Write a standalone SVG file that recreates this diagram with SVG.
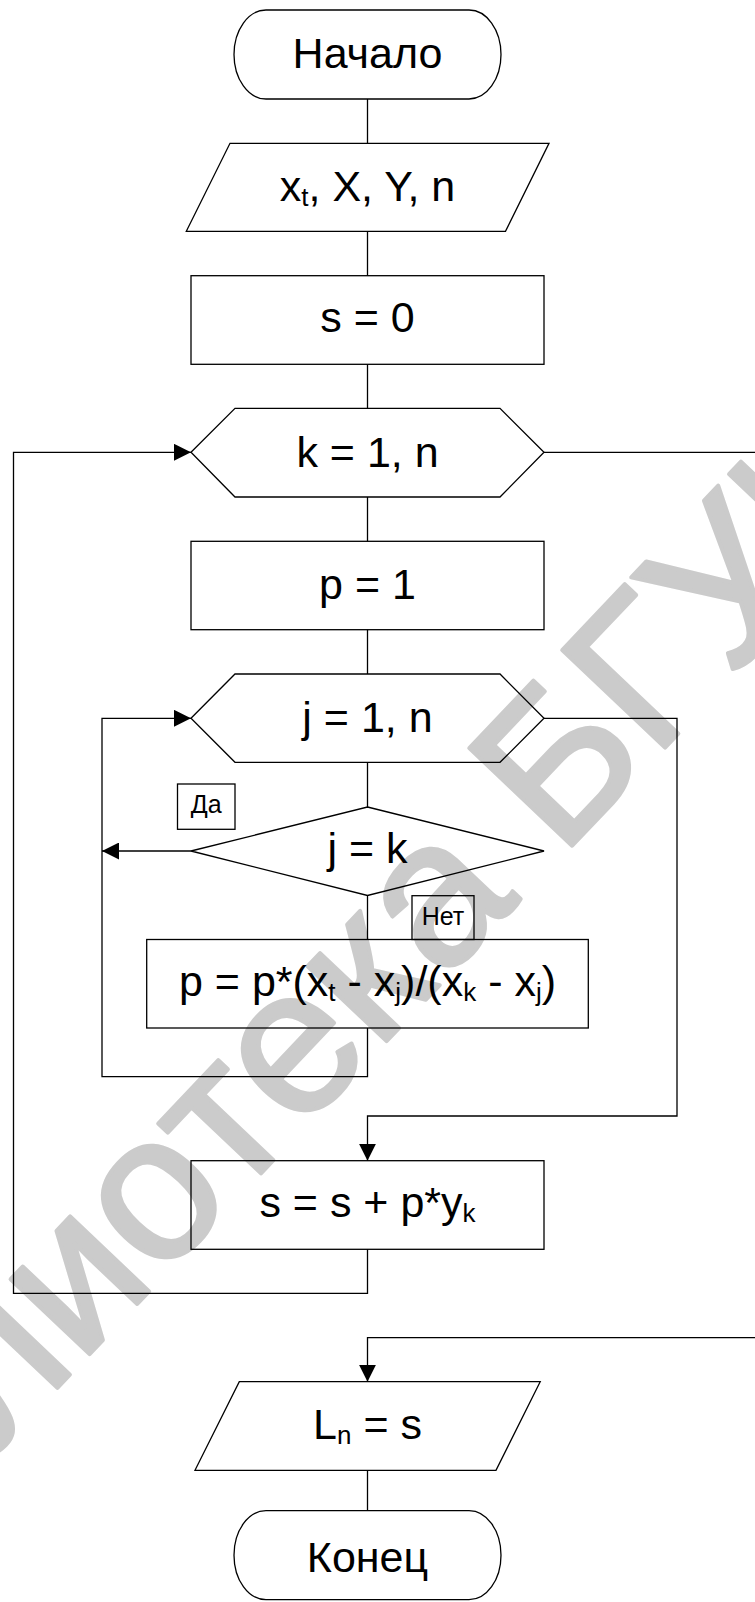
<svg xmlns="http://www.w3.org/2000/svg" width="755" height="1602" viewBox="0 0 755 1602">
<defs>
<style>
.s{fill:none;stroke:#000;stroke-width:1.3}
.t{font-family:"Liberation Sans",Arial,sans-serif;font-size:43px;fill:#000;text-anchor:middle}
.l{font-family:"Liberation Sans",Arial,sans-serif;font-size:25px;fill:#000;text-anchor:middle}
.c{fill:none;stroke:#000;stroke-width:1.3}
.sub{font-size:26px}
.wm{font-family:"Liberation Sans",Arial,sans-serif;font-size:206px;fill:#cbcbcb;stroke:#cbcbcb;stroke-width:4;stroke-linejoin:round}
</style>
<marker id="ah" viewBox="0 0 17 17" refX="17" refY="8.5" markerWidth="17" markerHeight="17" markerUnits="userSpaceOnUse" orient="auto">
<path d="M0,0 L17,8.5 L0,17 Z" fill="#000"/>
</marker>
</defs>
<rect width="755" height="1602" fill="#fff"/>
<g id="watermark">
<text class="wm" transform="translate(-250,1712) rotate(-46.5)">Библиотека БГУИР</text>
</g>
<g id="connectors">
<path class="c" d="M367.5,99 V143.3"/>
<path class="c" d="M367.5,231.3 V275.7"/>
<path class="c" d="M367.5,364.3 V408.3"/>
<path class="c" d="M367.5,497 V541.3"/>
<path class="c" d="M367.5,629.7 V674"/>
<path class="c" d="M367.5,762.3 V807"/>
<path class="c" d="M367.5,895.5 V939.5"/>
<path class="c" d="M191,851 H102" marker-end="url(#ah)"/>
<path class="c" d="M367.5,1028 V1076.7 H102 V718.3 H191" marker-end="url(#ah)"/>
<path class="c" d="M544,718.3 H677 V1116 H367.5 V1160.7" marker-end="url(#ah)"/>
<path class="c" d="M367.5,1249.3 V1293.3 H13.5 V452.3 H191" marker-end="url(#ah)"/>
<path class="c" d="M544,452.3 H762 V1337.7 H367.5 V1381.7" marker-end="url(#ah)"/>
<path class="c" d="M367.5,1470.3 V1510.7"/>
</g>
<g id="start">
<path class="s" d="M266,10 H469 A32,44.5 0 0 1 469,99 H266 A32,44.5 0 0 1 266,10 Z"/>
<text class="t" x="367.5" y="68.3">Начало</text>
</g>
<g id="input">
<polygon class="s" points="230,143.3 549,143.3 505.5,231.3 186.3,231.3"/>
<text class="t" x="367.5" y="201">x<tspan class="sub" dy="5">t</tspan><tspan dy="-5">, X, Y, n</tspan></text>
</g>
<g id="s0">
<rect class="s" x="191" y="275.7" width="353" height="88.6"/>
<text class="t" x="367.5" y="332">s = 0</text>
</g>
<g id="loopk">
<polygon class="s" points="191,452.3 235,408.3 500,408.3 544,452.3 500,497 235,497"/>
<text class="t" x="367.5" y="466.7">k = 1, n</text>
</g>
<g id="p1">
<rect class="s" x="191" y="541.3" width="353" height="88.4"/>
<text class="t" x="367.5" y="599">p = 1</text>
</g>
<g id="loopj">
<polygon class="s" points="191,718.3 235,674 500,674 544,718.3 500,762.3 235,762.3"/>
<text class="t" x="367.5" y="731.7">j = 1, n</text>
</g>
<g id="cond">
<polygon class="s" points="367.5,807 544,851 367.5,895.5 191,851"/>
<text class="t" x="367.5" y="863.3">j = k</text>
</g>
<g id="label-yes">
<rect class="s" x="177.5" y="784" width="57.5" height="45.3"/>
<text class="l" x="206.2" y="813">Да</text>
</g>
<g id="label-no">
<rect class="s" x="412" y="895.7" width="62" height="43.8"/>
<text class="l" x="443" y="925">Нет</text>
</g>
<g id="formula">
<rect class="s" x="146.7" y="939.5" width="441.6" height="88.5"/>
<text class="t" x="367.5" y="995.5">p = p*(x<tspan class="sub" dy="5">t</tspan><tspan dy="-5"> - x</tspan><tspan class="sub" dy="5">j</tspan><tspan dy="-5">)/(x</tspan><tspan class="sub" dy="5">k</tspan><tspan dy="-5"> - x</tspan><tspan class="sub" dy="5">j</tspan><tspan dy="-5">)</tspan></text>
</g>
<g id="sum">
<rect class="s" x="191" y="1160.7" width="353" height="88.6"/>
<text class="t" x="367.5" y="1216.7">s = s + p*y<tspan class="sub" dy="5">k</tspan></text>
</g>
<g id="output">
<polygon class="s" points="239.3,1381.7 540.2,1381.7 496,1470.3 195,1470.3"/>
<text class="t" x="367.5" y="1439.3">L<tspan class="sub" dy="5">n</tspan><tspan dy="-5"> = s</tspan></text>
</g>
<g id="end">
<path class="s" d="M266,1510.7 H469 A32,44.5 0 0 1 469,1599.7 H266 A32,44.5 0 0 1 266,1510.7 Z"/>
<text class="t" x="367.5" y="1571.7">Конец</text>
</g>
</svg>
